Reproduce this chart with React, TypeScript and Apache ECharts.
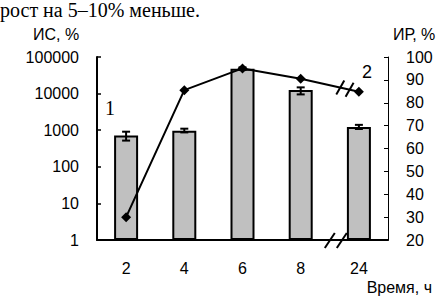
import React, { useEffect, useRef } from "react";
import * as echarts from "echarts";

const categories = ["2", "4", "6", "8", "24"];
const isValues = [720, 960, 48000, 12500, 1230];
const isErrLow = [520, 870, 44000, 9500, 1080];
const isErrHigh = [910, 1100, 52000, 14800, 1400];
const irValues = [30, 85.5, 95, 90.5, 84.8];

const titleText = "рост на 5–10% меньше.";
const leftAxisTitle = "ИС, %";
const rightAxisTitle = "ИР, %";
const xAxisTitle = "Время, ч";

const SANS = "Liberation Sans, Arial, sans-serif";
const SERIF = "Liberation Serif, Times New Roman, serif";

export default function App() {
  const ref = useRef<HTMLDivElement>(null);
  useEffect(() => {
    if (!ref.current) return;
    const chart = echarts.init(ref.current, null, { renderer: "svg" });
    const errData = categories.map((_, i) => [i, isErrLow[i], isErrHigh[i]]);
    chart.setOption({
      animation: false,
      grid: { left: 97, right: 51, top: 57, bottom: 58, containLabel: false },
      xAxis: {
        type: "category",
        data: categories,
        boundaryGap: true,
        axisLine: { lineStyle: { color: "#000", width: 2 } },
        axisTick: { inside: true, length: 4, lineStyle: { color: "#000", width: 1.5 } },
        axisLabel: { color: "#000", fontFamily: SANS, fontSize: 16, margin: 20 },
        splitLine: { show: false },
      },
      yAxis: [
        {
          type: "log",
          logBase: 10,
          min: 1,
          max: 100000,
          position: "left",
          axisLine: { show: true, lineStyle: { color: "#000", width: 2 } },
          axisTick: { show: true, inside: true, length: 4, lineStyle: { color: "#000", width: 1.5 } },
          axisLabel: {
            color: "#000",
            fontFamily: SANS,
            fontSize: 16,
            margin: 18,
            formatter: (v: number) => String(Math.round(v)),
          },
          splitLine: { show: false },
        },
        {
          type: "value",
          min: 20,
          max: 100,
          interval: 10,
          position: "right",
          axisLine: { show: true, lineStyle: { color: "#000", width: 1 } },
          axisTick: { show: true, inside: true, length: 4, lineStyle: { color: "#000", width: 1 } },
          axisLabel: { color: "#000", fontFamily: SANS, fontSize: 16, margin: 18 },
          splitLine: { show: false },
        },
      ],
      series: [
        {
          type: "bar",
          yAxisIndex: 0,
          data: isValues,
          barWidth: 24,
          itemStyle: { color: "#c0c0c0", borderColor: "#000", borderWidth: 2 },
          z: 2,
        },
        {
          type: "custom",
          yAxisIndex: 0,
          data: errData,
          z: 3,
          renderItem: (params: any, api: any) => {
            const x = api.value(0);
            const lo = api.coord([x, api.value(1)]);
            const hi = api.coord([x, api.value(2)]);
            const hw = 4;
            const style = { stroke: "#000", lineWidth: 2 };
            return {
              type: "group",
              children: [
                { type: "line", shape: { x1: lo[0], y1: lo[1], x2: hi[0], y2: hi[1] }, style },
                { type: "line", shape: { x1: lo[0] - hw, y1: lo[1], x2: lo[0] + hw, y2: lo[1] }, style },
                { type: "line", shape: { x1: hi[0] - hw, y1: hi[1], x2: hi[0] + hw, y2: hi[1] }, style },
              ],
            };
          },
        },
        {
          type: "line",
          yAxisIndex: 1,
          data: irValues,
          symbol: "diamond",
          symbolSize: 10,
          lineStyle: { color: "#000", width: 2 },
          itemStyle: { color: "#000" },
          z: 4,
        },
      ],
    });

    // break marks and texts
    const p8 = chart.convertToPixel({ xAxisIndex: 0, yAxisIndex: 1 }, [3, irValues[3]]) as number[];
    const p24 = chart.convertToPixel({ xAxisIndex: 0, yAxisIndex: 1 }, [4, irValues[4]]) as number[];
    const b0 = chart.convertToPixel({ xAxisIndex: 0, yAxisIndex: 1 }, [3, 20]) as number[];
    const b1 = chart.convertToPixel({ xAxisIndex: 0, yAxisIndex: 1 }, [4, 20]) as number[];
    const bx = (b0[0] + b1[0]) / 2 + 6;
    const by = b0[1];
    const breakStyle = { stroke: "#000", lineWidth: 2 };
    const lineMarks = [0.68, 0.84].map((t) => {
      const cx = p8[0] + (p24[0] - p8[0]) * t;
      const cy = p8[1] + (p24[1] - p8[1]) * t;
      return {
        type: "line",
        shape: { x1: cx - 4, y1: cy + 7, x2: cx + 4, y2: cy - 7 },
        style: breakStyle,
        z: 10,
      };
    });
    const axisMarks = [-6, 6].map((dx) => ({
      type: "line",
      shape: { x1: bx + dx - 5, y1: by + 8, x2: bx + dx + 5, y2: by - 7 },
      style: breakStyle,
      z: 10,
    }));
    chart.setOption({
      graphic: [
        ...lineMarks,
        ...axisMarks,
        {
          type: "text",
          left: 0,
          top: 0,
          style: { text: titleText, font: `20px ${SERIF}`, fill: "#000" },
        },
        {
          type: "text",
          x: 33,
          y: 34,
          style: { text: leftAxisTitle, font: `16px ${SANS}`, fill: "#000", verticalAlign: "middle" },
        },
        {
          type: "text",
          x: 393,
          y: 34,
          style: { text: rightAxisTitle, font: `16px ${SANS}`, fill: "#000", verticalAlign: "middle" },
        },
        {
          type: "text",
          x: 432,
          y: 287,
          style: { text: xAxisTitle, font: `16px ${SANS}`, fill: "#000", align: "right", verticalAlign: "middle" },
        },
        {
          type: "text",
          x: 105,
          y: 108,
          style: { text: "1", font: `20px ${SERIF}`, fill: "#000", verticalAlign: "middle" },
        },
        {
          type: "text",
          x: 362,
          y: 72,
          style: { text: "2", font: `18px ${SANS}`, fill: "#000", verticalAlign: "middle" },
        },
      ],
    });
    return () => chart.dispose();
  }, []);
  return <div ref={ref} style={{ width: 439, height: 298, position: "absolute", left: 0, top: 0, background: "#fff" }} />;
}
